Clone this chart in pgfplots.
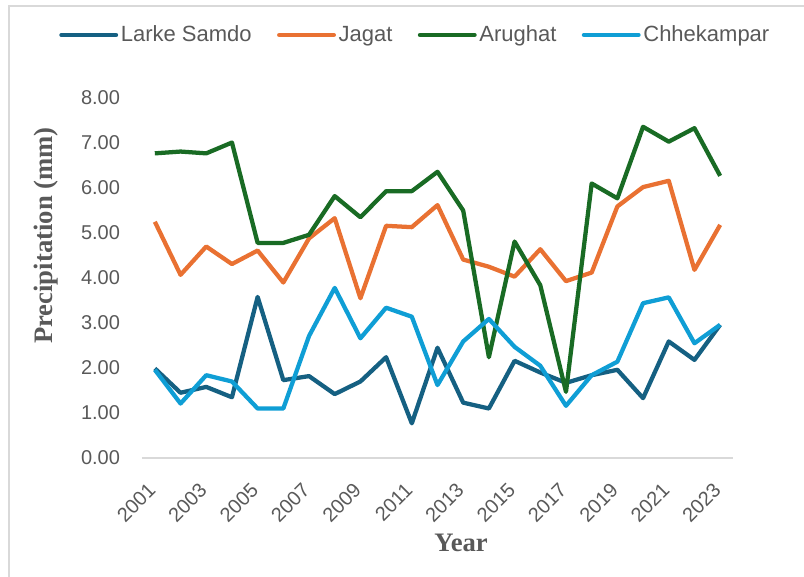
\documentclass[border=0pt]{standalone}
\usepackage{pgfplots}
\pgfplotsset{compat=1.18}
\usepackage{pgfplotstable}
\usepackage{fontspec}
\setmainfont{Liberation Sans}
\newfontfamily\serifbold{Liberation Serif}

\definecolor{larke}{HTML}{156082}
\definecolor{jagat}{HTML}{E97132}
\definecolor{arughat}{HTML}{196B24}
\definecolor{chhek}{HTML}{0F9ED5}
\definecolor{txtgray}{HTML}{595959}
\definecolor{linegray}{HTML}{D9D9D9}

% annual precipitation
\pgfplotstableread{
year larke jagat arughat chhek
2001 1.99 5.25 6.77 1.96
2002 1.45 4.07 6.81 1.21
2003 1.58 4.70 6.77 1.84
2004 1.35 4.31 7.01 1.70
2005 3.58 4.61 4.78 1.10
2006 1.73 3.90 4.78 1.10
2007 1.82 4.88 4.96 2.71
2008 1.42 5.33 5.82 3.78
2009 1.70 3.55 5.35 2.66
2010 2.24 5.16 5.93 3.34
2011 0.77 5.13 5.93 3.14
2012 2.45 5.62 6.36 1.62
2013 1.23 4.41 5.50 2.59
2014 1.10 4.25 2.24 3.09
2015 2.16 4.03 4.81 2.47
2016 1.90 4.64 3.84 2.05
2017 1.67 3.93 1.47 1.16
2018 1.84 4.12 6.10 1.84
2019 1.96 5.59 5.77 2.14
2020 1.33 6.02 7.36 3.44
2021 2.59 6.16 7.03 3.57
2022 2.18 4.18 7.33 2.55
2023 2.96 5.18 6.27 2.96
}\prec

\begin{document}
\begin{tikzpicture}
\useasboundingbox (0pt,0pt) rectangle (603pt,-432.75pt);
\draw[linegray, line width=1.1pt] (6.75pt,-432.75pt) -- (6.75pt,-4.5pt) -- (603pt,-4.5pt);
\begin{axis}[
    at={(106.5pt,-343.5pt)}, anchor=south west,
    scale only axis,
    width=443.25pt, height=270pt,
    xmin=2000.5, xmax=2023.5,
    ymin=0, ymax=8,
    axis x line*=bottom, axis y line*=left,
    x axis line style={draw=linegray, line width=1.1pt},
    y axis line style={draw=none},
    major tick length=0pt,
    xtick={2001,2003,...,2023},
    ytick={0,1,...,8},
    /pgf/number format/assume math mode=true,
    tick label style={font=\fontsize{15}{15}\selectfont, text=txtgray},
    x tick label style={xshift=-6pt, yshift=-13pt, rotate=45, anchor=north east,
        /pgf/number format/1000 sep={}},
    y tick label style={xshift=-13pt,
        /pgf/number format/.cd, fixed, fixed zerofill, precision=2},
    xlabel={Year},
    ylabel={Precipitation (mm)},
    label style={font=\serifbold\bfseries\fontsize{20}{20}\selectfont, text=txtgray},
    xlabel style={at={(axis description cs:0.54,-0.236)}, anchor=center},
    ylabel style={at={(axis description cs:-0.162,0.618)}, anchor=center},
    legend columns=4,
    legend style={at={(axis description cs:0.463,1.175)}, anchor=center,
        draw=none, fill=none, font=\fontsize{16.5}{16.5}\selectfont, text=txtgray,
        /tikz/every even column/.append style={column sep=17pt}},
    legend image code/.code={\draw[#1, line cap=round] (0pt,0pt) -- (41pt,0pt);},
    every axis plot/.append style={line width=3.2pt, line join=round, mark=none},
]
\addplot[larke] table[x=year, y=larke] {\prec};
\addplot[jagat] table[x=year, y=jagat] {\prec};
\addplot[arughat] table[x=year, y=arughat] {\prec};
\addplot[chhek] table[x=year, y=chhek] {\prec};
\legend{Larke Samdo, Jagat, Arughat, Chhekampar}
\end{axis}
\end{tikzpicture}
\end{document}
